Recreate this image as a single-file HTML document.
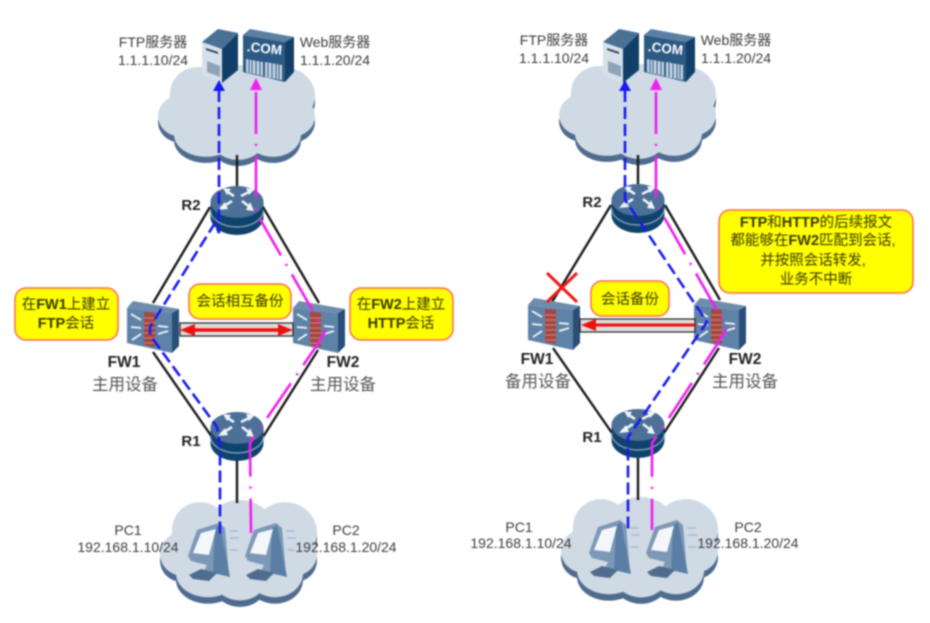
<!DOCTYPE html>
<html><head><meta charset="utf-8"><style>
html,body{margin:0;padding:0;background:#fff}
svg{display:block;filter:blur(.7px)}
text{font-family:"Liberation Sans","Noto Sans CJK SC",sans-serif;fill:#3c3c3c;font-size:14px;text-anchor:middle}
.b{font-weight:bold;font-size:15px;fill:#222}
.f{font-weight:bold;font-size:15.5px;fill:#222}
.c{font-size:16.5px;fill:#555}
.y{font-size:14.5px;fill:#3a3a00}
.ybox{fill:#ffff00;stroke:#ff6a50;stroke-width:1.5}
.k{stroke:#1a1a1a;stroke-width:2.4;fill:none}
.bl{stroke:#1a1af0;stroke-width:2.6;fill:none;stroke-dasharray:12 5}
.mg{stroke:#f020f0;stroke-width:2.6;fill:none;stroke-dasharray:42 10 2 10}
</style></head><body>
<svg width="930" height="623" viewBox="0 0 930 623" xmlns="http://www.w3.org/2000/svg">
<defs>
<g id="cl">
<g fill="#4f6c8f" transform="translate(0,6)"><ellipse cx="22" cy="50" rx="22" ry="20"/><ellipse cx="40" cy="28" rx="28" ry="26"/><ellipse cx="80" cy="30" rx="35" ry="30"/><ellipse cx="125" cy="30" rx="32" ry="28"/><ellipse cx="135" cy="50" rx="22" ry="20"/><ellipse cx="115" cy="68" rx="28" ry="22"/><ellipse cx="80" cy="70" rx="28" ry="23"/><ellipse cx="48" cy="68" rx="32" ry="22"/></g>
<g fill="#cfdae5"><ellipse cx="22" cy="50" rx="22" ry="20"/><ellipse cx="40" cy="28" rx="28" ry="26"/><ellipse cx="80" cy="30" rx="35" ry="30"/><ellipse cx="125" cy="30" rx="32" ry="28"/><ellipse cx="135" cy="50" rx="22" ry="20"/><ellipse cx="115" cy="68" rx="28" ry="22"/><ellipse cx="80" cy="70" rx="28" ry="23"/><ellipse cx="48" cy="68" rx="32" ry="22"/></g>
</g>
<g id="srv">
<polygon points="202,42 222,49 222,83 202,75" fill="#d5e0ea"/>
<polygon points="202,42 218,29 238,33 222,49" fill="#4a7094"/>
<polygon points="222,49 238,33 238,70 222,83" fill="#123f68"/>
<polygon points="206,48 218,52 218,54 206,50" fill="#345"/>
<polygon points="207,72 220,77 220,66 207,61" fill="#8fa3b8"/>
<polygon points="243,35 285,42 285,82 243,72" fill="#2c5a84"/>
<polygon points="243,35 250,29 294,37 285,42" fill="#5a7fa3"/>
<polygon points="285,42 294,37 294,72 285,82" fill="#123f68"/>
<g transform="translate(264,53) rotate(6)"><text x="0" y="0" style="font-size:13.5px;font-weight:bold;fill:#fff">.COM</text></g>
<polygon points="246,59 263,62 263,76 246,72" fill="#c4d2df"/>
<polygon points="265,62 282,65 282,80 265,77" fill="#c4d2df"/>
<g stroke="#2c5a84" stroke-width="1"><path d="M249,59V72M252,60V73M256,60V74M260,61V75M268,63V77M272,63V78M276,64V79M279,64V79"/></g>
</g>
<g id="rt">
<ellipse cx="0" cy="30" rx="26.5" ry="18" fill="#0f436c"/>
<rect x="-26.5" y="14" width="53" height="16" fill="#0f436c"/>
<path d="M-26.5,23 A26.5,17 0 0 0 26.5,23" fill="none" stroke="#7f9bb8" stroke-width="1.4"/>
<ellipse cx="0" cy="15" rx="26.5" ry="16" fill="#4c7097"/>
<g stroke="#eef3f8" stroke-width="2.6" fill="none"><path d="M-3,9 L-11,4M-16,21 L-5,14M5,14 L14,21M4,9 L14,4"/></g>
<g fill="#eef3f8"><polygon points="-14,1 -6,2 -10,8"/><polygon points="-19,23 -12,15 -9,22"/><polygon points="17,24 9,23 13,15"/><polygon points="18,2 9,1 12,8"/></g>
</g>
<g id="fw">
<polygon points="0,7 6,0 52,8 45,12" fill="#6e8cab"/>
<polygon points="45,12 52,8 52,45 45,52" fill="#274f78"/>
<polygon points="0,7 45,12 45,52 0,42" fill="#5f83a8"/>
<polygon points="17,11 28,12 28,46 17,44" fill="#a8453f"/>
<g stroke="#d8a29a" stroke-width=".8"><path d="M17,17H28M17,22H28M17,27H28M17,32H28M17,37H28M17,42H28"/></g>
<g stroke="#f2f5f8" stroke-width="1.8"><path d="M4,13 L14,19M4,26 L14,27M5,39 L14,33M31,25 L41,26M31,33 L41,30"/></g>
</g>
<g id="pc">
<polygon points="5,33 14,7 36,0 42,5 46,52 20,50 24,42 8,38" fill="#7d98b6"/>
<polygon points="32,6 37,2 47,54 30,50" fill="#5b7ea6"/>
<polygon points="10,30 18,10 33,6 26,32" fill="#f4f7fa"/>
<polygon points="6,52 18,46 34,50 26,58 10,56" fill="#4f6c8f"/>
<g stroke="#a9bbcc" stroke-width="1.5"><path d="M46,8H55M47,15H56M47,27H55"/></g>
</g>
</defs>

<rect width="930" height="623" fill="#fff"/>

<!-- LEFT -->
<use href="#cl" transform="translate(158,65) scale(1,1.02)"/>
<use href="#cl" transform="translate(160,500) scale(1,1.08)"/>
<path class="k" d="M237,155V190M237,455V503"/>
<path class="k" d="M210,207L153,303M263,207L319,303M153,352L212,437M318,350L263,437"/>
<use href="#srv"/>
<use href="#rt" x="237" y="187"/>
<use href="#rt" x="237" y="413"/>
<use href="#fw" x="127" y="301"/>
<use href="#fw" x="293" y="301"/>
<use href="#pc" x="183" y="523"/>
<use href="#pc" x="240" y="523"/>
<rect x="180" y="323" width="113" height="13" fill="#ddd" stroke="#222" stroke-width="1.2"/>
<path d="M190,330H283" stroke="#f01010" stroke-width="3.5"/>
<polygon points="180,330 195,324 195,336" fill="#f01010"/>
<polygon points="293,330 278,324 278,336" fill="#f01010"/>
<path class="bl" d="M219,90V233L215,223L150,327L150,335L217,427L220,445V537"/>
<path class="mg" d="M256,92V212L325,332L315,348L250,443L251,533"/>
<polygon points="219,80 213,91 225,91" fill="#1a1af0"/>
<polygon points="256,78 250,90 262,90" fill="#f020f0"/>

<rect class="ybox" x="15" y="288" width="103" height="52" rx="11"/>
<rect class="ybox" x="189" y="284" width="102" height="35" rx="11"/>
<rect class="ybox" x="350" y="288" width="103" height="52" rx="11"/>
<text class="y" x="66" y="309">在<tspan font-weight="bold">FW1</tspan>上建立</text>
<text class="y" x="66" y="328"><tspan font-weight="bold">FTP</tspan>会话</text>
<text class="y" x="240" y="306">会话相互备份</text>
<text class="y" x="401" y="309">在<tspan font-weight="bold">FW2</tspan>上建立</text>
<text class="y" x="401" y="328"><tspan font-weight="bold">HTTP</tspan>会话</text>

<text x="153" y="47">FTP服务器</text><text x="153" y="65">1.1.1.10/24</text>
<text x="335" y="47">Web服务器</text><text x="335" y="65">1.1.1.20/24</text>
<text class="b" x="191" y="210">R2</text>
<text class="f" x="124" y="367">FW1</text><text class="c" x="125" y="390">主用设备</text>
<text class="f" x="343" y="367">FW2</text><text class="c" x="343" y="390">主用设备</text>
<text class="b" x="191" y="446">R1</text>
<text x="128" y="535">PC1</text><text x="128" y="552">192.168.1.10/24</text>
<text x="346" y="535">PC2</text><text x="346" y="552">192.168.1.20/24</text>

<!-- RIGHT -->
<use href="#cl" transform="translate(559,64) scale(1,1.02)"/>
<use href="#cl" transform="translate(561,497) scale(1,1.08)"/>
<path class="k" d="M638,155V190M638,452V500"/>
<path class="k" d="M611,205L552,302M665,205L720,300M553,348L612,433M719,348L664,433"/>
<use href="#srv" x="401"/>
<use href="#rt" x="638" y="185"/>
<use href="#rt" x="638" y="410"/>
<use href="#fw" x="528" y="298"/>
<use href="#fw" x="694" y="298"/>
<use href="#pc" x="584" y="520"/>
<use href="#pc" x="641" y="520"/>
<rect x="580" y="319" width="115" height="13" fill="#ddd" stroke="#222" stroke-width="1.2"/>
<path d="M590,325H695" stroke="#f01010" stroke-width="3"/>
<polygon points="581,325 596,319 596,331" fill="#f01010"/>
<path d="M547,302L577,273M547,273L577,302" stroke="#f01818" stroke-width="3" fill="none"/>
<path class="bl" d="M625,90V200L630,207L707,322L640,420L628,437V530"/>
<path class="mg" d="M656,92V203L727,328L718,343L663,427L652,443V530"/>
<polygon points="625,80 619,91 631,91" fill="#1a1af0"/>
<polygon points="656,78 650,90 662,90" fill="#f020f0"/>

<rect class="ybox" x="591" y="281" width="78" height="35" rx="11"/>
<rect class="ybox" x="719" y="210" width="194" height="83" rx="11"/>
<text class="y" x="630" y="304">会话备份</text>
<text class="y" x="816" y="227"><tspan font-weight="bold">FTP</tspan>和<tspan font-weight="bold">HTTP</tspan>的后续报文</text>
<text class="y" x="813" y="245">都能够在<tspan font-weight="bold">FW2</tspan>匹配到会话,</text>
<text class="y" x="813" y="265">并按照会话转发,</text>
<text class="y" x="816" y="284">业务不中断</text>

<text x="554" y="45">FTP服务器</text><text x="554" y="63">1.1.1.10/24</text>
<text x="736" y="45">Web服务器</text><text x="736" y="63">1.1.1.20/24</text>
<text class="b" x="592" y="207">R2</text>
<text class="f" x="537" y="364">FW1</text><text class="c" x="538" y="387">备用设备</text>
<text class="f" x="745" y="364">FW2</text><text class="c" x="745" y="387">主用设备</text>
<text class="b" x="592" y="442">R1</text>
<text x="519" y="532">PC1</text><text x="521" y="548">192.168.1.10/24</text>
<text x="748" y="532">PC2</text><text x="748" y="548">192.168.1.20/24</text>
</svg>
</body></html>
